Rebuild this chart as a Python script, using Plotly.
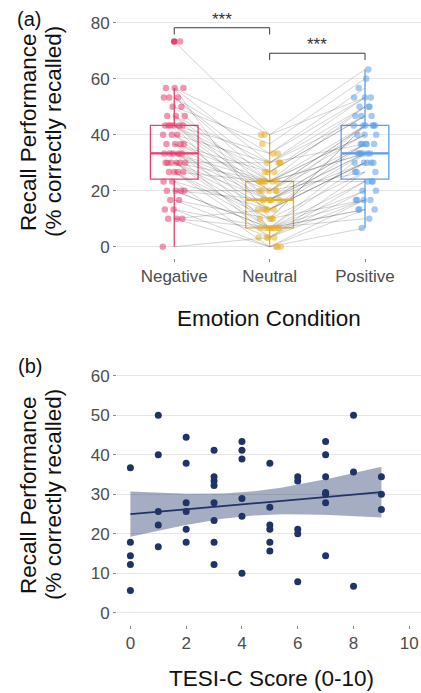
import numpy as np
import plotly.graph_objects as go

# ---------------- data ----------------
conditions = ["Negative", "Neutral", "Positive"]

# recall (% correctly recalled) per participant, paired across conditions
negative = [0.0, 10.0, 10.0, 10.0, 13.3, 13.3, 16.7, 16.7, 20.0, 20.0,
            20.0, 20.0, 23.3, 23.3, 26.7, 26.7, 26.7, 26.7, 30.0, 30.0,
            30.0, 30.0, 30.0, 30.0, 33.3, 33.3, 33.3, 33.3, 33.3, 36.7,
            36.7, 36.7, 36.7, 40.0, 40.0, 40.0, 43.3, 43.3, 43.3, 43.3,
            43.3, 43.3, 46.7, 46.7, 46.7, 50.0, 50.0, 53.3, 53.3, 53.3,
            56.7, 56.7, 56.7, 73.3]
neutral = [3.3, 0.0, 6.7, 13.3, 0.0, 6.7, 10.0, 3.3, 6.7, 16.7,
           6.7, 20.0, 0.0, 13.3, 3.3, 10.0, 23.3, 6.7, 16.7, 23.3,
           6.7, 13.3, 30.0, 10.0, 16.7, 23.3, 3.3, 20.0, 13.3, 26.7,
           6.7, 16.7, 23.3, 20.0, 30.0, 13.3, 23.3, 16.7, 33.3, 20.0,
           6.7, 26.7, 23.3, 30.0, 16.7, 36.7, 20.0, 26.7, 23.3, 33.3,
           40.0, 30.0, 10.0, 40.0]
positive = [16.7, 6.7, 20.0, 30.0, 13.3, 23.3, 16.7, 26.7, 10.0, 33.3,
            13.3, 36.7, 16.7, 30.0, 20.0, 43.3, 23.3, 13.3, 30.0, 40.0,
            16.7, 33.3, 46.7, 26.7, 36.7, 33.3, 23.3, 43.3, 30.0, 50.0,
            33.3, 36.7, 43.3, 26.7, 53.3, 36.7, 40.0, 33.3, 56.7, 43.3,
            30.0, 46.7, 50.0, 36.7, 43.3, 60.0, 40.0, 46.7, 33.3, 53.3,
            63.3, 50.0, 43.3, 53.3]

# significance comparisons (ggsignif-like)
sig_pairs = [(0, 1), (1, 2)]
sig_labels = ["***", "***"]
sig_y = [78.2, 69.1]

# panel (b)
tesi_score = [0, 0, 0, 0, 0,
              1, 1, 1, 1, 1,
              2, 2, 2, 2, 2, 2,
              3, 3, 3, 3, 3, 3, 3, 3,
              4, 4, 4, 4, 4, 4,
              5, 5, 5, 5, 5, 5,
              6, 6, 6, 6, 6,
              7, 7, 7, 7, 7, 7, 7,
              8, 8, 8,
              9, 9, 9]
recall_overall = [36.7, 17.8, 14.4, 12.2, 5.6,
                  50.0, 40.0, 25.6, 22.2, 16.7,
                  44.4, 37.8, 27.8, 25.6, 21.1, 17.8,
                  41.1, 34.4, 33.3, 32.2, 27.8, 23.3, 17.8, 12.2,
                  43.3, 41.1, 38.9, 28.9, 24.4, 10.0,
                  37.8, 26.7, 22.2, 21.1, 17.8, 15.6,
                  34.4, 33.3, 21.1, 20.0, 7.8,
                  43.3, 40.0, 34.4, 30.4, 30.0, 27.8, 14.4,
                  50.0, 35.6, 6.7,
                  34.4, 30.0, 26.1]

# ---------------- style / layout constants ----------------
W, H = 421, 693
ML = 117
PW = W - ML
FONT = "Liberation Sans, Arial, Helvetica, sans-serif"
cond_colors = ["#E8406F", "#E8B02C", "#5E9EEA"]
navy = "#1F3366"
grid_col = "#E6E6E6"
tick_col = "#4D4D4D"


def px_x(px):
    return (px - ML) / PW


def px_y(py):
    return 1 - py / H


fig = go.Figure()

# ---------- panel (a) ----------
# paired lines
for i in range(len(negative)):
    fig.add_trace(go.Scatter(
        x=[0, 1, 2], y=[negative[i], neutral[i], positive[i]],
        mode="lines", line=dict(color="rgba(60,60,60,0.28)", width=0.8),
        hoverinfo="skip", showlegend=False, xaxis="x", yaxis="y"))

series = [negative, neutral, positive]
for k, vals in enumerate(series):
    a = np.array(vals, dtype=float)
    q1, med, q3 = np.percentile(a, [25, 50, 75])
    iqr = q3 - q1
    lo_lim, hi_lim = q1 - 1.5 * iqr, q3 + 1.5 * iqr
    inside = a[(a >= lo_lim) & (a <= hi_lim)]
    outl = a[(a < lo_lim) | (a > hi_lim)]
    fig.add_trace(go.Box(
        x=[k], q1=[q1], median=[med], q3=[q3],
        lowerfence=[inside.min()], upperfence=[inside.max()],
        width=0.5, whiskerwidth=0, boxpoints=False,
        fillcolor="rgba(255,255,255,0)",
        line=dict(color=cond_colors[k], width=1.3),
        showlegend=False, hoverinfo="skip", xaxis="x", yaxis="y"))
    # thicker median line (ggplot style)
    fig.add_trace(go.Scatter(
        x=[k - 0.25, k + 0.25], y=[med, med], mode="lines",
        line=dict(color=cond_colors[k], width=2.2),
        showlegend=False, hoverinfo="skip", xaxis="x", yaxis="y"))
    # jittered points (deterministic jitter)
    n = len(vals)
    jit = [(((i * 0.6180339887 + 0.37 * k) % 1.0) - 0.5) * 0.24 for i in range(n)]
    fig.add_trace(go.Scatter(
        x=[k + j for j in jit], y=vals, mode="markers",
        marker=dict(color=cond_colors[k], size=6.5, opacity=0.55, line=dict(width=0)),
        showlegend=False, hoverinfo="skip", xaxis="x", yaxis="y"))
    if len(outl):
        fig.add_trace(go.Scatter(
            x=[k] * len(outl), y=outl, mode="markers",
            marker=dict(color=cond_colors[k], size=6.5, line=dict(width=0)),
            showlegend=False, hoverinfo="skip", xaxis="x", yaxis="y"))

# significance brackets
tip = 2.4
annotations = []
for (a0, a1), lab, yy in zip(sig_pairs, sig_labels, sig_y):
    fig.add_trace(go.Scatter(
        x=[a0, a0, a1, a1], y=[yy - tip, yy, yy, yy - tip], mode="lines",
        line=dict(color="#3a3a3a", width=1), showlegend=False,
        hoverinfo="skip", xaxis="x", yaxis="y"))
    annotations.append(dict(x=(a0 + a1) / 2, y=yy + 3.1, xref="x", yref="y",
                            text=lab, showarrow=False, yanchor="middle",
                            font=dict(family=FONT, size=17, color="#333333")))

# ---------- panel (b) ----------
xb = np.array(tesi_score, dtype=float)
yb = np.array(recall_overall, dtype=float)
nb = len(xb)
b1, b0 = np.polyfit(xb, yb, 1)
xs = np.linspace(xb.min(), xb.max(), 80)
yhat = b0 + b1 * xs
resid = yb - (b0 + b1 * xb)
s = np.sqrt((resid ** 2).sum() / (nb - 2))
sxx = ((xb - xb.mean()) ** 2).sum()
se = s * np.sqrt(1.0 / nb + (xs - xb.mean()) ** 2 / sxx)
tcrit = 2.0066  # t(0.975, df=52)
lower = yhat - tcrit * se
upper = yhat + tcrit * se

fig.add_trace(go.Scatter(x=xs, y=lower, mode="lines", line=dict(width=0, color=navy),
                         showlegend=False, hoverinfo="skip", xaxis="x2", yaxis="y2"))
fig.add_trace(go.Scatter(x=xs, y=upper, mode="lines", line=dict(width=0, color=navy),
                         fill="tonexty", fillcolor="rgba(31,51,102,0.40)",
                         showlegend=False, hoverinfo="skip", xaxis="x2", yaxis="y2"))
fig.add_trace(go.Scatter(x=xs, y=yhat, mode="lines", line=dict(width=1.8, color=navy),
                         showlegend=False, hoverinfo="skip", xaxis="x2", yaxis="y2"))
fig.add_trace(go.Scatter(x=tesi_score, y=recall_overall, mode="markers",
                         marker=dict(color=navy, size=7, line=dict(width=0)),
                         showlegend=False, hoverinfo="skip", xaxis="x2", yaxis="y2"))

# ---------- text annotations ----------
title_font = dict(family=FONT, size=22.5, color="#111111")
for cy in (132, 495):
    annotations.append(dict(x=px_x(28), y=px_y(cy), xref="paper", yref="paper",
                            text="Recall Performance", textangle=-90, showarrow=False,
                            xanchor="center", yanchor="middle", font=title_font))
    annotations.append(dict(x=px_x(53), y=px_y(cy), xref="paper", yref="paper",
                            text="(% correctly recalled)", textangle=-90, showarrow=False,
                            xanchor="center", yanchor="middle", font=title_font))
annotations.append(dict(x=px_x(269), y=px_y(318), xref="paper", yref="paper",
                        text="Emotion Condition", showarrow=False,
                        xanchor="center", yanchor="middle", font=title_font))
annotations.append(dict(x=px_x(271), y=px_y(678), xref="paper", yref="paper",
                        text="TESI-C Score (0-10)", showarrow=False,
                        xanchor="center", yanchor="middle", font=title_font))
annotations.append(dict(x=px_x(29), y=px_y(19), xref="paper", yref="paper",
                        text="(a)", showarrow=False, xanchor="center", yanchor="middle",
                        font=dict(family=FONT, size=20, color="#111111")))
annotations.append(dict(x=px_x(29.5), y=px_y(366), xref="paper", yref="paper",
                        text="(b)", showarrow=False, xanchor="center", yanchor="middle",
                        font=dict(family=FONT, size=20, color="#111111")))

tickfont = dict(family=FONT, size=17, color=tick_col)
axis_common = dict(ticks="outside", ticklen=3, tickwidth=1, tickcolor="#888888",
                   tickfont=tickfont, zeroline=False, showline=False)

fig.update_layout(
    width=W, height=H, autosize=False,
    margin=dict(l=ML, r=0, t=0, b=0),
    paper_bgcolor="white", plot_bgcolor="white",
    boxmode="overlay", showlegend=False,
    font=dict(family=FONT),
    xaxis=dict(domain=[0, 1], anchor="y", range=[-0.6, 2.587],
               tickvals=[0, 1, 2], ticktext=conditions, showgrid=False, **axis_common),
    yaxis=dict(domain=[px_y(257.9), px_y(11.5)], anchor="x", range=[-4, 84],
               tickvals=[0, 20, 40, 60, 80], showgrid=True, gridcolor=grid_col,
               gridwidth=1.2, **axis_common),
    xaxis2=dict(domain=[0, 1], anchor="y2", range=[-0.48, 10.42],
                tickvals=[0, 2, 4, 6, 8, 10], showgrid=False, **axis_common),
    yaxis2=dict(domain=[px_y(624.5), px_y(363.8)], anchor="x2", range=[-3, 63],
                tickvals=[0, 10, 20, 30, 40, 50, 60], showgrid=True, gridcolor=grid_col,
                gridwidth=1.2, **axis_common),
    annotations=annotations,
)

fig.write_html("out.html")
